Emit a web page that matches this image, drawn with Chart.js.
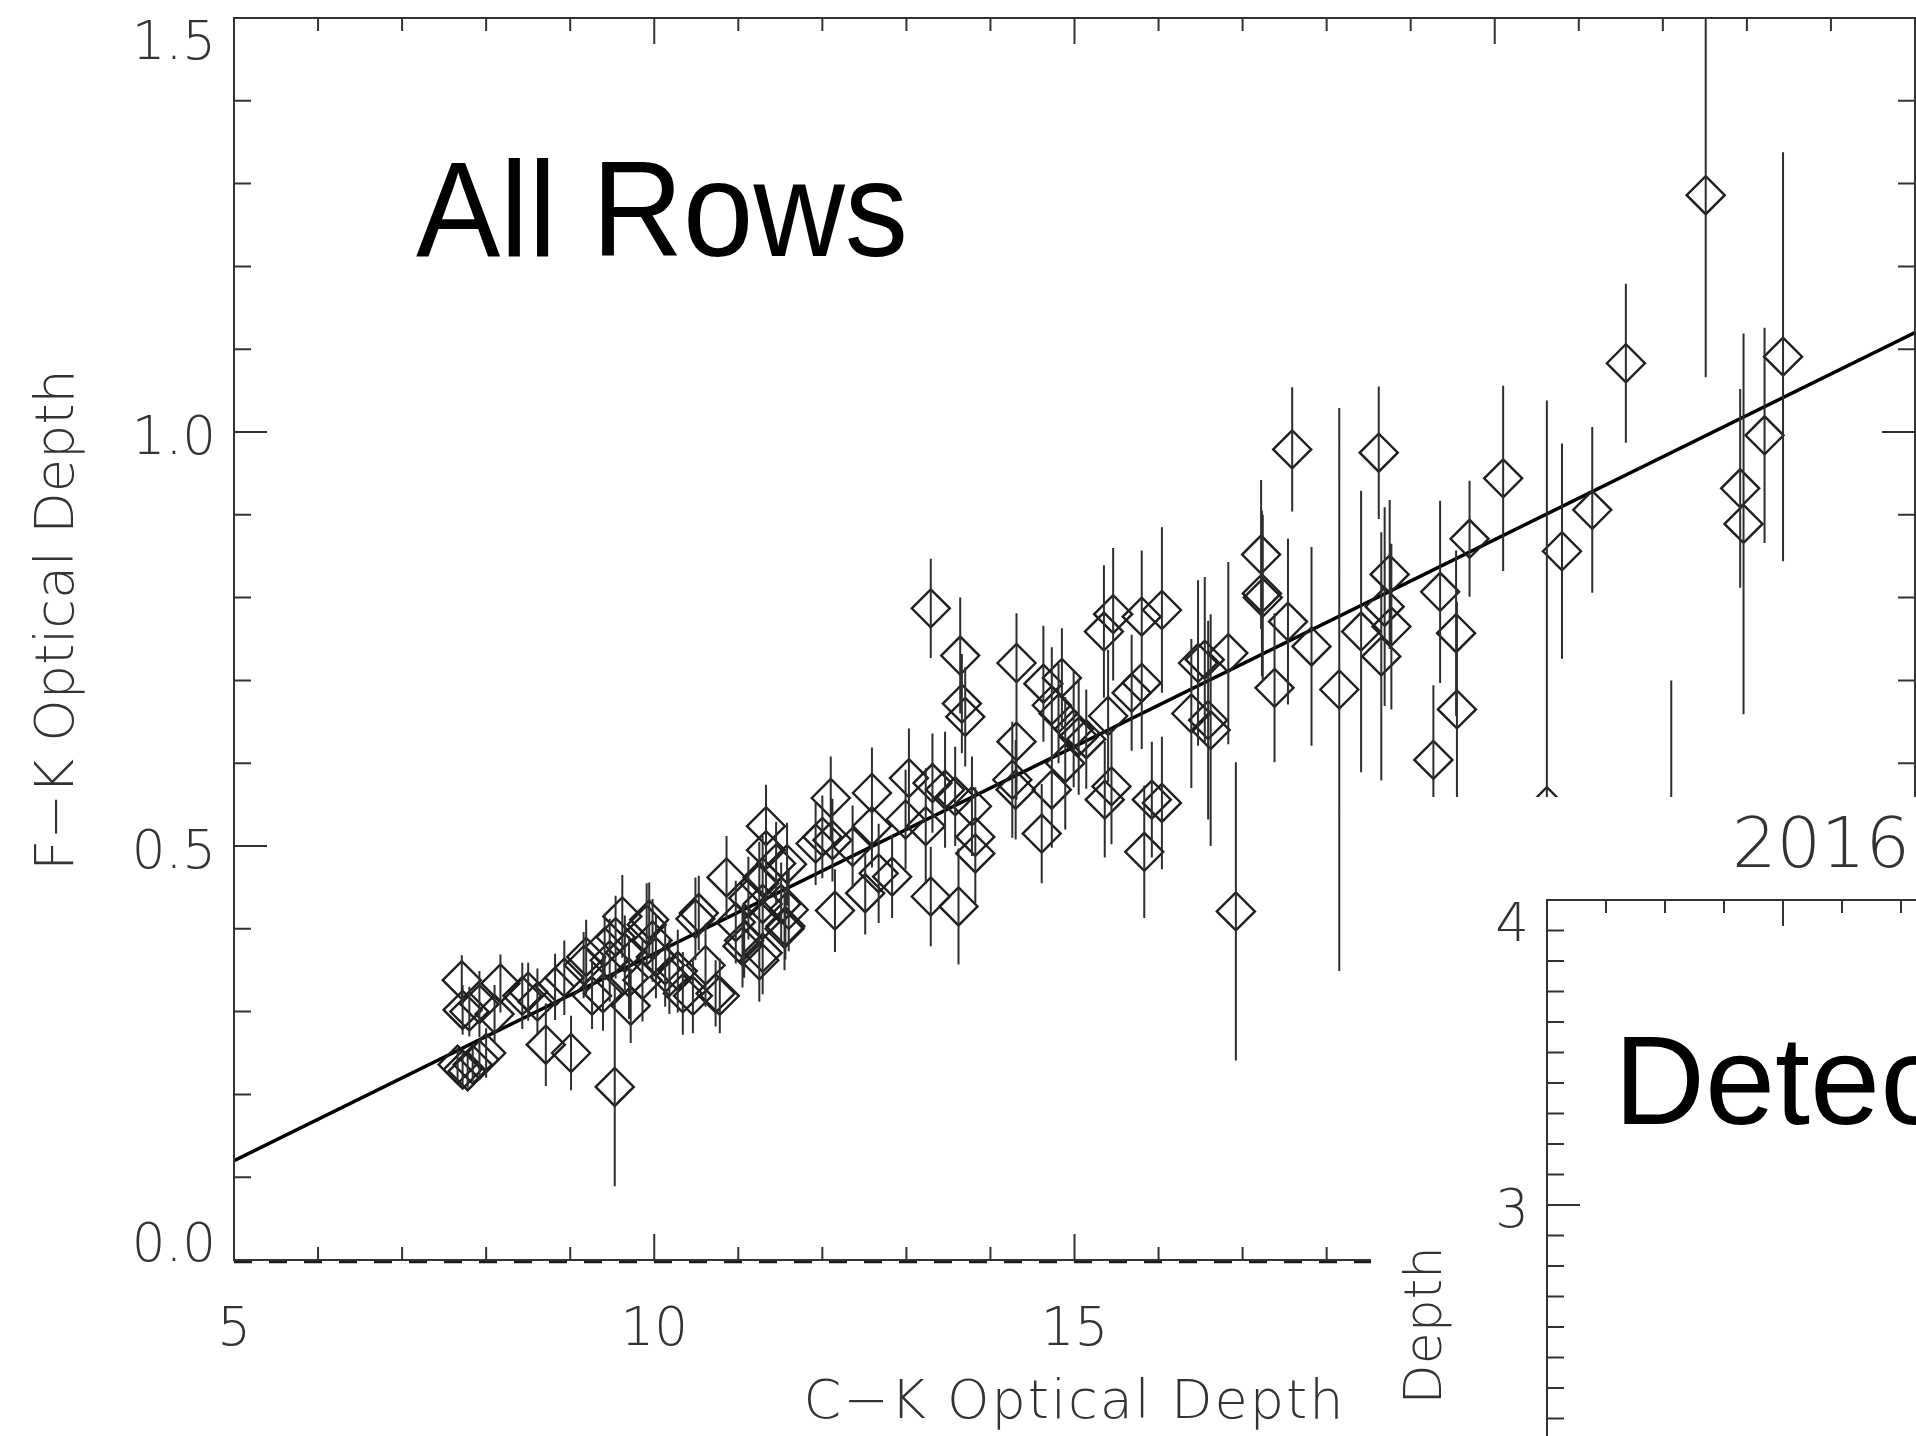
<!DOCTYPE html>
<html>
<head>
<meta charset="utf-8">
<script src="https://cdn.jsdelivr.net/npm/chart.js@4.4.1/dist/chart.umd.min.js"></script>
<style>
  html, body { margin: 0; padding: 0; width: 1916px; height: 1436px; overflow: hidden; background: #fff; }
  #wrap { position: relative; width: 1916px; height: 1436px; overflow: hidden; }
  #mainChart { position: absolute; left: 0; top: 0; }
  #insetBox { position: absolute; left: 1371px; top: 797px; width: 900px; height: 1400px; background: #fff; }
</style>
</head>
<body>
<div id="wrap">
  <canvas id="mainChart" width="1916" height="1436"></canvas>
  <div id="insetBox"><canvas id="insetChart" width="900" height="1400"></canvas></div>
</div>
<script>
// C-K optical depth (x), F-K optical depth (y) and its error
const ckDepth = [
  7.66, 7.72, 7.78, 7.84, 7.92, 7.71, 7.72, 7.80, 7.92, 8.17,
  8.10, 8.00, 8.43, 8.50, 8.61, 8.71, 8.82, 8.93, 9.01, 9.16,
  9.19, 9.26, 9.39, 9.41, 9.47, 9.53, 9.54, 9.62, 9.65, 9.70,
  9.72, 9.86, 9.91, 9.94, 9.98, 10.02, 10.13, 10.18, 10.28, 10.34,
  10.46, 10.49, 10.53, 10.61, 10.73, 10.78, 10.86, 10.97, 11.05, 11.07,
  11.12, 11.25, 11.25, 11.29, 11.29, 11.33, 11.33, 11.29, 11.29, 11.45,
  11.51, 11.55, 11.60, 11.58, 11.56, 11.92, 12.00, 12.15, 12.10, 12.12,
  12.36, 12.51, 12.59, 12.59, 12.67, 12.83, 12.99, 13.03, 13.23, 13.29,
  13.31, 13.46, 13.58, 13.62, 13.66, 13.70, 13.78, 13.82, 13.82, 13.29,
  13.64, 14.26, 14.30, 14.31, 14.31, 14.61, 14.63, 14.73, 14.73, 14.81,
  14.85, 14.89, 14.99, 15.05, 15.14, 15.35, 15.36, 15.40, 15.44, 15.46,
  15.68, 15.80, 15.80, 15.83, 15.92, 16.04, 16.04, 16.39, 16.47, 16.55,
  16.59, 16.62, 16.83, 16.92, 17.22, 17.23, 17.24, 17.38, 17.54, 17.59,
  17.82, 18.15, 18.41, 18.62, 18.75, 18.69, 18.77, 18.65, 19.27, 19.35,
  19.54, 19.55, 19.70, 20.10, 20.62, 20.80, 21.16, 21.56, 22.51, 22.92,
  22.96, 23.21, 23.43, 22.10
];
const fkDepth = [
  0.236, 0.230, 0.228, 0.236, 0.242, 0.338, 0.302, 0.300, 0.309, 0.334,
  0.297, 0.250, 0.319, 0.324, 0.312, 0.260, 0.330, 0.341, 0.250, 0.356,
  0.366, 0.319, 0.322, 0.378, 0.362, 0.209, 0.390, 0.415, 0.371, 0.341,
  0.307, 0.338, 0.405, 0.411, 0.386, 0.366, 0.356, 0.342, 0.349, 0.322,
  0.319, 0.412, 0.419, 0.356, 0.322, 0.319, 0.462, 0.408, 0.379, 0.386,
  0.437, 0.362, 0.455, 0.411, 0.430, 0.524, 0.495, 0.462, 0.371, 0.479,
  0.430, 0.400, 0.423, 0.478, 0.403, 0.503, 0.511, 0.422, 0.558, 0.507,
  0.499, 0.443, 0.564, 0.524, 0.467, 0.463, 0.532, 0.582, 0.524, 0.439,
  0.576, 0.568, 0.560, 0.427, 0.672, 0.656, 0.548, 0.511, 0.491, 0.787,
  0.730, 0.580, 0.568, 0.626, 0.721, 0.515, 0.696, 0.568, 0.670, 0.660,
  0.703, 0.600, 0.641, 0.632, 0.629, 0.759, 0.556, 0.657, 0.572, 0.780,
  0.685, 0.697, 0.777, 0.493, 0.556, 0.552, 0.785, 0.660, 0.721, 0.725,
  0.652, 0.640, 0.733, 0.421, 0.852, 0.805, 0.800, 0.691, 0.771, 0.979,
  0.741, 0.689, 0.759, 0.975, 0.828, 0.789, 0.765, 0.729, 0.604, 0.807,
  0.757, 0.665, 0.871, 0.944, 0.548, 0.856, 0.906, 1.083, 1.286, 0.932,
  0.889, 0.996, 1.091, 0.350
];
const fkError = [
  0.020, 0.020, 0.020, 0.020, 0.025, 0.030, 0.030, 0.030, 0.040, 0.035,
  0.035, 0.030, 0.040, 0.035, 0.040, 0.050, 0.040, 0.045, 0.045, 0.040,
  0.045, 0.040, 0.045, 0.040, 0.050, 0.120, 0.050, 0.050, 0.045, 0.050,
  0.045, 0.050, 0.050, 0.045, 0.050, 0.050, 0.050, 0.045, 0.050, 0.050,
  0.045, 0.050, 0.045, 0.050, 0.040, 0.045, 0.050, 0.050, 0.050, 0.045,
  0.050, 0.050, 0.050, 0.050, 0.050, 0.050, 0.060, 0.050, 0.050, 0.050,
  0.050, 0.050, 0.050, 0.050, 0.040, 0.050, 0.050, 0.050, 0.050, 0.050,
  0.050, 0.050, 0.055, 0.050, 0.060, 0.050, 0.060, 0.060, 0.070, 0.060,
  0.060, 0.070, 0.060, 0.070, 0.060, 0.060, 0.060, 0.060, 0.060, 0.060,
  0.070, 0.070, 0.060, 0.070, 0.060, 0.060, 0.070, 0.070, 0.070, 0.060,
  0.060, 0.080, 0.070, 0.070, 0.060, 0.080, 0.070, 0.080, 0.070, 0.080,
  0.070, 0.080, 0.080, 0.080, 0.070, 0.080, 0.100, 0.090, 0.100, 0.100,
  0.120, 0.140, 0.110, 0.180, 0.090, 0.100, 0.100, 0.090, 0.100, 0.075,
  0.120, 0.340, 0.170, 0.080, 0.090, 0.120, 0.100, 0.150, 0.090, 0.110,
  0.100, 0.130, 0.070, 0.112, 0.490, 0.130, 0.100, 0.096, 0.220, 0.120,
  0.230, 0.130, 0.247, 0.350
];
// fitted line, two ends
const fitX = [5, 25];
const fitY = [0.12, 1.12];

// axis labels
const xTickLabels = [5, 10, 15, 20, 25];
const yTickLabels = [0.0, 0.5, 1.0, 1.5];
const insetYTickLabels = [0, 1, 2, 3, 4];

const axisColor = '#333';
const labelFont = '200 53px "DejaVu Sans"';

// error bars: one segment per point, broken by nulls
function buildErrorBars() {
    const out = [];
    for (let i = 0; i < ckDepth.length; i++) {
        out.push({ x: ckDepth[i], y: fkDepth[i] - fkError[i] });
        out.push({ x: ckDepth[i], y: fkDepth[i] + fkError[i] });
        out.push({ x: ckDepth[i], y: null });
    }
    return out;
}

// draws the IDL style frame: box, inward ticks on every side
function drawFrame(chart, opt) {
    const ctx = chart.ctx;
    const area = chart.chartArea;
    const xs = chart.scales.x, ys = chart.scales.y;
    ctx.save();
    ctx.strokeStyle = axisColor;
    ctx.lineWidth = 2;
    ctx.strokeRect(area.left, area.top, area.right - area.left, area.bottom - area.top);
    ctx.beginPath();
    for (let v = xs.min; v <= xs.max + 1e-9; v += opt.xMinor) {
        const px = xs.getPixelForValue(v);
        const major = Math.abs(v / opt.xMajor - Math.round(v / opt.xMajor)) < 1e-6;
        const len = major ? 26 : 13;
        ctx.moveTo(px, area.bottom); ctx.lineTo(px, area.bottom - len);
        ctx.moveTo(px, area.top); ctx.lineTo(px, area.top + len);
    }
    for (let v = ys.min; v <= ys.max + 1e-9; v += opt.yMinor) {
        const py = ys.getPixelForValue(v);
        const major = Math.abs(v / opt.yMajor - Math.round(v / opt.yMajor)) < 1e-6;
        const len = major ? 33 : 17;
        ctx.moveTo(area.left, py); ctx.lineTo(area.left + len, py);
        ctx.moveTo(area.right, py); ctx.lineTo(area.right - len, py);
    }
    ctx.stroke();
    ctx.restore();
}

const mainAxes = {
    id: 'mainAxes',
    afterDatasetsDraw(chart) {
        const ctx = chart.ctx;
        const area = chart.chartArea;
        const xs = chart.scales.x, ys = chart.scales.y;
        drawFrame(chart, { xMinor: 1, xMajor: 5, yMinor: 0.1, yMajor: 0.5 });

        ctx.save();
        ctx.fillStyle = axisColor;
        ctx.font = labelFont;
        ctx.textBaseline = 'alphabetic';
        // y tick labels
        ctx.textAlign = 'right';
        yTickLabels.forEach(v => {
            const py = ys.getPixelForValue(v);
            let shift = 22;
            if (v === ys.max) shift = 41;
            if (v === ys.min) shift = 1;
            ctx.fillText(v.toFixed(1), area.left - 18, py + shift);
        });
        // x tick labels
        ctx.textAlign = 'center';
        xTickLabels.forEach(v => {
            ctx.fillText(String(v), xs.getPixelForValue(v), area.bottom + 85);
        });
        // axis titles
        ctx.font = '200 54px "DejaVu Sans"';
        ctx.letterSpacing = '2px';
        ctx.fillText('C\u2212K Optical Depth', (area.left + area.right) / 2, 1418);
        ctx.letterSpacing = '0px';
        ctx.translate(73, 620);
        ctx.rotate(-Math.PI / 2);
        ctx.fillText('F\u2212K Optical Depth', 0, 0);
        ctx.restore();

        // panel label
        ctx.save();
        ctx.fillStyle = '#000';
        ctx.font = '136px "Liberation Sans"';
        ctx.textAlign = 'left';
        ctx.translate(416, 256);
        ctx.scale(0.93, 1);
        ctx.fillText('All Rows', 0, 0);
        ctx.restore();
    }
};

const insetAxes = {
    id: 'insetAxes',
    afterDatasetsDraw(chart) {
        const ctx = chart.ctx;
        const area = chart.chartArea;
        const ys = chart.scales.y;
        drawFrame(chart, { xMinor: 1, xMajor: 5, yMinor: 0.1, yMajor: 1 });

        ctx.save();
        ctx.fillStyle = axisColor;
        ctx.font = labelFont;
        ctx.textAlign = 'right';
        insetYTickLabels.forEach(v => {
            const py = ys.getPixelForValue(v);
            let shift = 22;
            if (v === ys.max) shift = 41;
            if (v === ys.min) shift = 1;
            ctx.fillText(String(v), area.left - 18, py + shift);
        });
        ctx.textAlign = 'left';
        ctx.font = '200 70px "DejaVu Sans"';
        ctx.fillText('2016', 361, 70);
        ctx.font = '200 52px "DejaVu Sans"';
        ctx.translate(70, 449);
        ctx.rotate(-Math.PI / 2);
        ctx.textAlign = 'right';
        ctx.fillText('Depth', 0, 0);
        ctx.restore();

        ctx.save();
        ctx.fillStyle = '#000';
        ctx.font = '126px "Liberation Sans"';
        ctx.textAlign = 'left';
        ctx.fillText('Detected', 243, 327);
        ctx.restore();
    }
};

function initCharts() {
    const points = ckDepth.map((x, i) => ({ x: x, y: fkDepth[i] }));
    const fitLine = fitX.map((x, i) => ({ x: x, y: fitY[i] }));

    new Chart(document.getElementById('mainChart'), {
        type: 'scatter',
        data: {
            datasets: [
                {
                    label: 'errors',
                    data: buildErrorBars(),
                    showLine: true,
                    spanGaps: false,
                    borderColor: '#2e2e2e',
                    borderWidth: 2,
                    pointRadius: 0
                },
                {
                    label: 'F-K vs C-K',
                    data: points,
                    pointStyle: 'rectRot',
                    pointRadius: 19,
                    borderWidth: 2.4,
                    borderColor: '#1e1e1e',
                    backgroundColor: 'rgba(0,0,0,0)'
                },
                {
                    label: 'fit',
                    data: fitLine,
                    showLine: true,
                    borderColor: '#000',
                    borderWidth: 3.5,
                    pointRadius: 0
                },
                {
                    label: 'zero',
                    data: [{ x: 5, y: -0.0015 }, { x: 25, y: -0.0015 }],
                    showLine: true,
                    borderColor: '#1a1a1a',
                    borderWidth: 4,
                    borderDash: [18, 17],
                    pointRadius: 0,
                    clip: 6
                }
            ]
        },
        options: {
            responsive: false,
            animation: false,
            events: [],
            layout: { autoPadding: false, padding: { left: 234, top: 18, right: 1, bottom: 176 } },
            scales: {
                x: { type: 'linear', min: 5, max: 25, display: false },
                y: { type: 'linear', min: 0, max: 1.5, display: false }
            },
            plugins: { legend: { display: false }, tooltip: { enabled: false } }
        },
        plugins: [mainAxes]
    });

    new Chart(document.getElementById('insetChart'), {
        type: 'scatter',
        data: { datasets: [{ label: 'inset', data: [] }] },
        options: {
            responsive: false,
            animation: false,
            events: [],
            layout: { autoPadding: false, padding: { left: 176, top: 103, right: 16, bottom: 77 } },
            scales: {
                x: { type: 'linear', min: 1, max: 13, display: false },
                y: { type: 'linear', min: 0, max: 4, display: false }
            },
            plugins: { legend: { display: false }, tooltip: { enabled: false } }
        },
        plugins: [insetAxes]
    });
}

document.addEventListener('DOMContentLoaded', initCharts);
</script>
</body>
</html>
